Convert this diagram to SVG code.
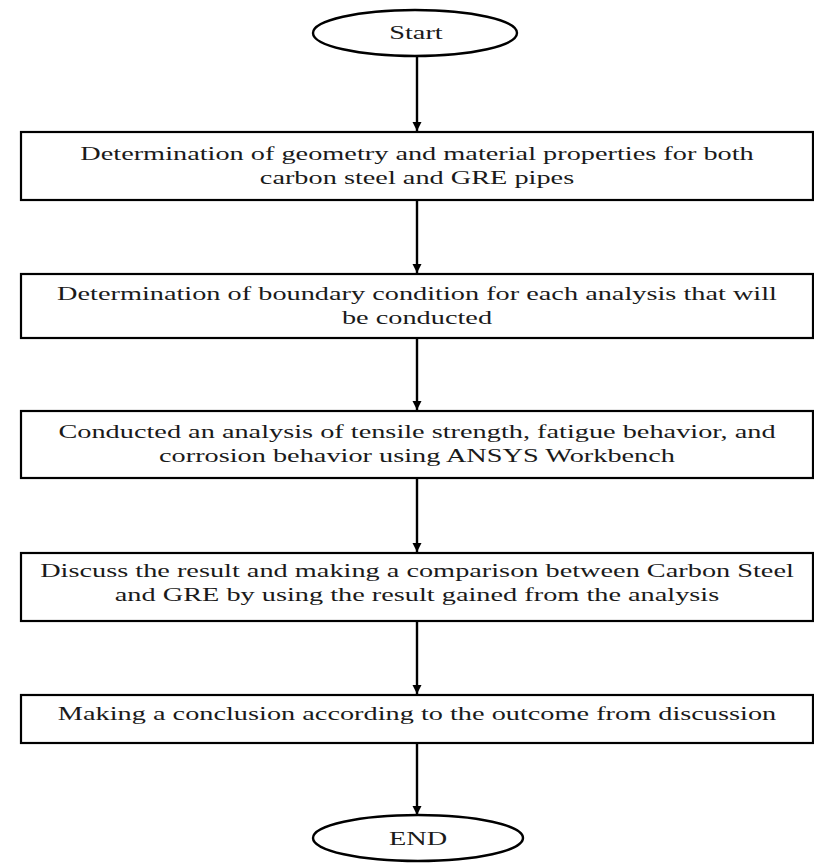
<svg xmlns="http://www.w3.org/2000/svg" width="814" height="863" viewBox="0 0 814 863">
<defs>
<marker id="ah" markerWidth="10" markerHeight="10" refX="9" refY="5" orient="auto" markerUnits="userSpaceOnUse">
<path d="M0,0.5 L9,5 L0,9.5 Z" fill="#000"/>
</marker>
<style>
.box{fill:#fff;stroke:#000;stroke-width:2.2}
.term{fill:#fff;stroke:#000;stroke-width:2.4}
.t{font-family:"Liberation Serif","Times New Roman",serif;font-size:18.5px;fill:#1a1a1a;text-anchor:middle}
.c{stroke:#000;stroke-width:2.4;fill:none;marker-end:url(#ah)}
</style>
</defs>
<rect width="814" height="863" fill="#fff"/>
<g id="connectors">
<line class="c" x1="417" y1="56" x2="417" y2="131"/>
<line class="c" x1="417" y1="200" x2="417" y2="273"/>
<line class="c" x1="417" y1="338" x2="417" y2="410"/>
<line class="c" x1="417" y1="478" x2="417" y2="552"/>
<line class="c" x1="417" y1="621" x2="417" y2="694"/>
<line class="c" x1="417" y1="743" x2="417" y2="815"/>
</g>
<g id="start">
<ellipse class="term" cx="415" cy="33" rx="102" ry="23"/>
<text class="t" transform="translate(416,39) scale(1.53,1)">Start</text>
</g>
<g id="step1">
<rect class="box" x="21" y="132" width="792" height="68"/>
<text class="t" transform="translate(417,160) scale(1.53,1)">Determination of geometry and material properties for both</text>
<text class="t" transform="translate(417,184) scale(1.53,1)">carbon steel and GRE pipes</text>
</g>
<g id="step2">
<rect class="box" x="21" y="274" width="792" height="64"/>
<text class="t" transform="translate(417,300) scale(1.53,1)">Determination of boundary condition for each analysis that will</text>
<text class="t" transform="translate(417,324) scale(1.53,1)">be conducted</text>
</g>
<g id="step3">
<rect class="box" x="21" y="411" width="792" height="67"/>
<text class="t" transform="translate(417,438) scale(1.53,1)">Conducted an analysis of tensile strength, fatigue behavior, and</text>
<text class="t" transform="translate(417,462) scale(1.53,1)">corrosion behavior using ANSYS Workbench</text>
</g>
<g id="step4">
<rect class="box" x="21" y="553" width="792" height="68"/>
<text class="t" transform="translate(417,577) scale(1.53,1)">Discuss the result and making a comparison between Carbon Steel</text>
<text class="t" transform="translate(417,601) scale(1.53,1)">and GRE by using the result gained from the analysis</text>
</g>
<g id="step5">
<rect class="box" x="21" y="695" width="792" height="48"/>
<text class="t" transform="translate(417,720) scale(1.53,1)">Making a conclusion according to the outcome from discussion</text>
</g>
<g id="end">
<ellipse class="term" cx="418" cy="838" rx="105" ry="23"/>
<text class="t" transform="translate(418,845) scale(1.53,1)">END</text>
</g>
</svg>
